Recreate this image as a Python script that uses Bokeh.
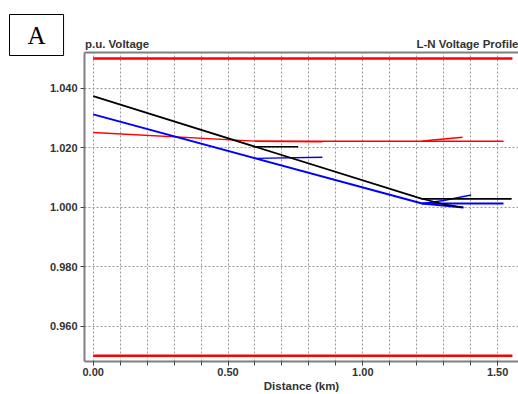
from bokeh.plotting import figure
from bokeh.models import Range1d, FixedTicker, PrintfTickFormatter, LinearAxis, Title
from bokeh.embed import file_html
from bokeh.resources import INLINE

# ---- data ----
limit_x = [0.0, 1.555]
upper_limit = [1.05, 1.05]
lower_limit = [0.95, 0.95]

black_main_x = [0.0, 1.22, 1.552]
black_main_y = [1.0373, 1.0028, 1.0028]
black_b1_x = [0.60, 0.76]
black_b1_y = [1.0203, 1.0203]
black_b2_x = [1.22, 1.30, 1.373]
black_b2_y = [1.0028, 1.0010, 0.9999]

blue_main_x = [0.0, 1.22, 1.522]
blue_main_y = [1.0312, 1.0012, 1.0012]
blue_b1_x = [0.60, 0.85]
blue_b1_y = [1.0164, 1.0168]
blue_b2_x = [1.22, 1.30, 1.402]
blue_b2_y = [1.0012, 1.0022, 1.0041]
blue_b3_x = [1.22, 1.373]
blue_b3_y = [1.0012, 0.9999]

red_main_x = [0.0, 0.60, 1.522]
red_main_y = [1.0251, 1.0222, 1.0222]
red_b1_x = [0.60, 0.85]
red_b1_y = [1.0222, 1.0220]
red_b2_x = [1.22, 1.25, 1.37]
red_b2_y = [1.0222, 1.0225, 1.0235]

x_major = [0.0, 0.5, 1.0, 1.5]
x_minor = [round(0.1 * i, 1) for i in range(16)]
y_major = [0.96, 0.98, 1.00, 1.02, 1.04]

# header texts (placed as labels of the top frame axis)
header_pos = [0.0886, 1.3947]
header_text = ["p.u. Voltage", "L-N Voltage Profile"]

FONT = "Liberation Sans"
TXT = "#333333"
FRAME = "#808080"

p = figure(width=518, height=394, output_backend="svg", toolbar_location=None,
           x_range=Range1d(-0.0323, 1.5775), y_range=Range1d(0.9481, 1.0520),
           min_border_left=84, min_border_right=0, min_border_top=52, min_border_bottom=33)
p.outline_line_color = None
p.background_fill_color = "white"

for ax in (p.xaxis[0], p.yaxis[0]):
    ax.axis_line_color = FRAME
    ax.axis_line_width = 2
    ax.major_tick_line_color = "#444444"
    ax.minor_tick_line_color = "#444444"
    ax.major_tick_in = 0
    ax.major_tick_out = 4
    ax.minor_tick_in = 0
    ax.major_label_text_font = FONT
    ax.major_label_text_font_style = "bold"
    ax.major_label_text_font_size = "11px"
    ax.major_label_text_color = TXT

p.xaxis.ticker = FixedTicker(ticks=x_major, minor_ticks=x_minor)
p.xaxis.minor_tick_out = 4
p.xaxis.formatter = PrintfTickFormatter(format="%.2f")
p.xaxis.major_label_standoff = 2
p.xaxis.axis_label = "Distance (km)"
p.xaxis.axis_label_text_font = FONT
p.xaxis.axis_label_text_font_style = "bold"
p.xaxis.axis_label_text_font_size = "11.5px"
p.xaxis.axis_label_text_color = TXT
p.xaxis.axis_label_standoff = 1
p.yaxis.ticker = FixedTicker(ticks=y_major, minor_ticks=[])
p.yaxis.minor_tick_out = 0
p.yaxis.formatter = PrintfTickFormatter(format="%.3f")
p.yaxis.major_label_standoff = 3

top = LinearAxis(ticker=FixedTicker(ticks=header_pos, minor_ticks=[]),
                 major_label_overrides={k: v for k, v in zip(header_pos, header_text)},
                 axis_line_color=FRAME, axis_line_width=2,
                 major_tick_in=0, major_tick_out=0, minor_tick_in=0, minor_tick_out=0,
                 major_label_standoff=3, major_label_text_font=FONT,
                 major_label_text_font_style="bold", major_label_text_font_size="11.5px",
                 major_label_text_color=TXT)

box_title = Title(text="A", align="left", offset=-75, vertical_align="bottom",
                  standoff=-42, text_font="Liberation Serif", text_font_style="normal",
                  text_font_size="25px", text_color="black",
                  border_line_color="black", border_line_width=1,
                  background_fill_color="white",
                  padding=dict(left=18, right=18, top=7, bottom=7))
# first entry sits next to the frame
p.above = [top, box_title]

p.xgrid.ticker = FixedTicker(ticks=x_minor)
p.ygrid.ticker = FixedTicker(ticks=y_major)
for g in (p.xgrid[0], p.ygrid[0]):
    g.grid_line_color = "#9a9a9a"
    g.grid_line_dash = "2 2"
    g.grid_line_width = 1

p.line(limit_x, upper_limit, color="#ff0000", line_width=2.5)
p.line(limit_x, lower_limit, color="#ff0000", line_width=2.5)

p.line(red_main_x, red_main_y, color="#ff0000", line_width=1.5)
p.line(red_b1_x, red_b1_y, color="#ff0000", line_width=1.5)
p.line(red_b2_x, red_b2_y, color="#ff0000", line_width=1.5)

p.line(blue_main_x, blue_main_y, color="#0000ff", line_width=2)
p.line(blue_b1_x, blue_b1_y, color="#0000ff", line_width=1.5)
p.line(blue_b2_x, blue_b2_y, color="#0000ff", line_width=1.5)
p.line(blue_b3_x, blue_b3_y, color="#0000ff", line_width=2)

p.line(black_main_x, black_main_y, color="#000000", line_width=1.8)
p.line(black_b1_x, black_b1_y, color="#000000", line_width=1.5)
p.line(black_b2_x, black_b2_y, color="#000000", line_width=1.5)

open("out.html", "w").write(file_html(p, INLINE))
